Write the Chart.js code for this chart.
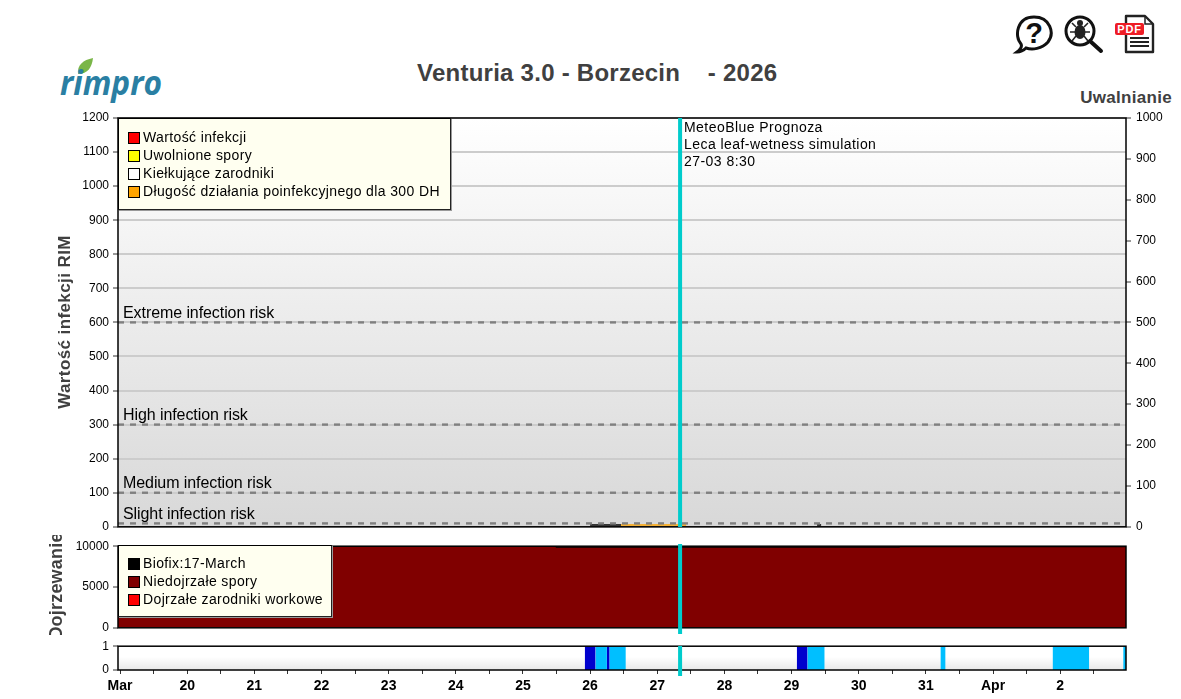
<!DOCTYPE html>
<html lang="pl"><head><meta charset="utf-8"><title>Venturia 3.0</title>
<script src="https://cdn.jsdelivr.net/npm/chart.js@4"></script>
<style>
html,body{margin:0;padding:0;background:#fff;overflow:hidden}
#page{position:relative;width:1181px;height:699px;font-family:"Liberation Sans",Arial,sans-serif;overflow:hidden}
canvas{position:absolute;left:0}
.head{position:absolute;white-space:pre;font-weight:bold;color:#404040}
.legend{position:absolute;left:118px;background:#fffff0;border-right:1px solid #222;border-bottom:1px solid #222;box-sizing:border-box;box-shadow:1px 1px 0 #999;font-size:14px;letter-spacing:.37px;color:#000}
.row{position:absolute;left:24px;white-space:pre;line-height:18px;height:18px}
.sw{position:absolute;left:9px;width:10px;height:10px;border:1px solid #000}
svg{position:absolute}
</style></head><body><div id="page">
<div class="head" style="left:417px;top:58px;font-size:24px;line-height:30px;letter-spacing:.25px">Venturia 3.0 - Borzecin    - 2026</div>
<div class="head" style="right:9px;top:88px;font-size:17px;line-height:20px;letter-spacing:.3px">Uwalnianie</div>
<svg style="left:55px;top:54px" width="115" height="52" viewBox="0 0 115 52">
<path d="M23 20 C22 11 28 6 38 4 C37 13 33 20 23 20Z" fill="#7ab648"/>
<text x="5" y="41" font-family="Open Sans" font-weight="bold" font-style="italic" font-size="34" fill="#2a7fa3" textLength="102" lengthAdjust="spacingAndGlyphs">rimpro</text>
</svg>
<svg style="left:1012px;top:10px" width="150" height="48" viewBox="0 0 150 48">
<path d="M5 42 C9 39 10 36 9 34 C2 26 5 7 22 7 C38 7 43 23 36 32 C30 39 20 40 14 38 C11 41 8 42 5 42Z" fill="#fff" stroke="#111" stroke-width="3"/>
<text x="22" y="33" text-anchor="middle" font-family="Liberation Sans" font-weight="bold" font-size="29" fill="#111">?</text>
<circle cx="68" cy="21" r="14" fill="#fff" stroke="#111" stroke-width="3"/>
<line x1="78" y1="31" x2="89" y2="41" stroke="#111" stroke-width="4" stroke-linecap="round"/>
<ellipse cx="68" cy="22" rx="5.5" ry="7" fill="#222"/><circle cx="68" cy="13" r="3" fill="#222"/>
<path d="M60 13 L64 17 M76 13 L72 17 M58 22 H78 M60 31 L64 26 M76 31 L72 26" stroke="#222" stroke-width="1.6"/>
<path d="M114 6 H133 L141 14 V42 H114Z" fill="#fff" stroke="#222" stroke-width="2.4" stroke-linejoin="round"/>
<path d="M133 6 V14 H141" fill="none" stroke="#222" stroke-width="1.5"/>
<path d="M118 28 H137 M118 32 H137 M118 36 H137" stroke="#222" stroke-width="2"/>
<rect x="103" y="13" width="29" height="12" rx="2" fill="#ee1c25"/>
<text x="117.5" y="23" text-anchor="middle" font-family="Liberation Sans" font-weight="bold" font-size="11" letter-spacing="0.8" fill="#fff">PDF</text>
</svg>
<canvas id="c1" width="1181" height="539" style="top:0"></canvas>
<canvas id="c2" width="1181" height="104" style="top:535px;clip-path:inset(0 0 4px 0)"></canvas>
<canvas id="c3" width="1181" height="64" style="top:635px"></canvas>
<div class="legend" style="top:118px;width:333px;height:92px;border-top:1px solid #000;border-left:1px solid #000">
<i class="sw" style="top:13px;background:#f00"></i><span class="row" style="top:9px">Wartość infekcji</span>
<i class="sw" style="top:31px;background:#ff0"></i><span class="row" style="top:27px">Uwolnione spory</span>
<i class="sw" style="top:49px;background:#fff"></i><span class="row" style="top:45px">Kiełkujące zarodniki</span>
<i class="sw" style="top:67px;background:#ffa500"></i><span class="row" style="top:63px">Długość działania poinfekcyjnego dla 300 DH</span>
</div>
<div class="legend" style="top:545px;width:214px;height:72px;border-top:1px solid #000;border-left:1px solid #000">
<i class="sw" style="top:12px;background:#000"></i><span class="row" style="top:8px">Biofix:17-March</span>
<i class="sw" style="top:30px;background:#800000"></i><span class="row" style="top:26px">Niedojrzałe spory</span>
<i class="sw" style="top:48px;background:#f00"></i><span class="row" style="top:44px">Dojrzałe zarodniki workowe</span>
</div>
</div>
<script>
// x values are days counted from 19 March
const xMin = -0.03, xMax = 14.98;
const nowX = 8.34;
const dayLabels = ["Mar","20","21","22","23","24","25","26","27","28","29","30","31","Apr","2"];
const thresholdValues = [600, 300, 100, 10];
const thresholdLabels = ["Extreme infection risk","High infection risk","Medium infection risk","Slight infection risk"];
const forecastLines = ["MeteoBlue Prognoza","Leca leaf-wetness simulation","27-03 8:30"];
const infectionX = [7.0, 7.46], infectionY = [5, 5];
const durationX = [7.46, 8.43], durationY = [5, 5];
const blipX = [10.38, 10.44], blipY = [5, 5];
const ripeX = [-0.03, 6.5, 6.5, 11.6, 11.6, 14.98];
const immatureY = [10000, 10000, 9900, 9900, 9950, 9950];
const darkWet = [[6.92,7.08],[7.25,7.29],[10.08,10.24]];
const lightWet = [[7.08,7.25],[7.29,7.53],[10.24,10.49],[12.22,12.29],[13.89,14.43],[14.94,14.98]];

const FONT = '"Liberation Sans", Arial, sans-serif';
Chart.defaults.font.family = FONT;
Chart.defaults.animation = false;
const pts = (xs, ys) => xs.map((x, i) => ({x, y: ys[i]}));
const band = r => r.flatMap(([a, b]) => [{x:a,y:0},{x:a,y:1},{x:b,y:1},{x:b,y:0}]);

function surface(stops){ return { id:'surface', beforeDraw(c){
  const a=c.chartArea, g=c.ctx.createLinearGradient(0,a.top,0,a.bottom);
  stops.forEach(s=>g.addColorStop(s[0],s[1]));
  c.ctx.fillStyle=g; c.ctx.fillRect(a.left,a.top,a.right-a.left,a.bottom-a.top);
}};}
function overlay(yTop, yBottom, extra){ return { id:'overlay', afterDraw(c){
  const a=c.chartArea, ctx=c.ctx; ctx.save();
  ctx.strokeStyle='#000'; ctx.lineWidth=1.5;
  ctx.strokeRect(a.left,a.top,a.right-a.left,a.bottom-a.top);
  const x=c.scales.x.getPixelForValue(nowX);
  ctx.fillStyle='#00cccc'; ctx.fillRect(x-2,yTop,4,yBottom-yTop);
  if(extra) extra(c,ctx);
  ctx.restore();
}};}
function yAxis(min,max,step,pos,width,grid){ return {
  type:'linear',position:pos,min,max,
  afterFit(s){s.width=width;},
  ticks:{stepSize:step,color:'#000',font:{size:12},padding:pos==='left'?4:5,autoSkip:false,maxRotation:0,includeBounds:false,callback:v=>String(v)},
  border:{display:false},
  grid:{drawOnChartArea:!!grid,color:'#cccccc',lineWidth:2,tickColor:'#333',tickWidth:1,tickLength:5}
};}
const hiddenX = {type:'linear',min:xMin,max:xMax,display:false};
function rotated(ctx,text,x,y,size,sp){
  ctx.save();ctx.translate(x,y);ctx.rotate(-Math.PI/2);
  ctx.font='bold '+size+'px '+FONT;ctx.letterSpacing=sp+'px';ctx.fillStyle='#404040';ctx.textAlign='center';ctx.textBaseline='middle';
  ctx.fillText(text,0,0);ctx.restore();
}
const base = {responsive:false,animation:false,maintainAspectRatio:false,
  plugins:{legend:{display:false},tooltip:{enabled:false},title:{display:false}},
  elements:{point:{radius:0},line:{tension:0}}};

new Chart(document.getElementById('c1'),{type:'line',data:{datasets:[
  ...thresholdValues.map((v,i)=>({label:thresholdLabels[i],data:[{x:xMin,y:v},{x:xMax,y:v}],borderColor:'#808080',borderWidth:2.4,borderDash:[6,6],xAxisID:'x',yAxisID:'y'})),
  {label:'Wartość infekcji',data:pts(infectionX,infectionY),borderColor:'#000',borderWidth:1.5,xAxisID:'x',yAxisID:'y'},
  {label:'Długość działania',data:pts(durationX,durationY),borderColor:'#ffa500',borderWidth:1.5,xAxisID:'x',yAxisID:'y'},
  {label:'Kiełkujące zarodniki',data:pts(blipX,blipY),borderColor:'#000',borderWidth:1.5,xAxisID:'x',yAxisID:'y'}
]},options:{...base,layout:{autoPadding:false,padding:{top:118,bottom:5}},
  scales:{x:hiddenX,y:yAxis(0,1200,100,'left',118,true),yRight:yAxis(0,1000,100,'right',55,false)}},
  plugins:[surface([[0,'#ffffff'],[1,'#d8d8d8']]),overlay(118,527,(c,ctx)=>{
    ctx.fillStyle='#000';ctx.font='16px '+FONT;ctx.letterSpacing='-0.08px';ctx.textAlign='left';ctx.textBaseline='alphabetic';
    thresholdLabels.forEach((t,i)=>ctx.fillText(t,123,c.scales.y.getPixelForValue(thresholdValues[i])-4.5));
    ctx.font='14px '+FONT;ctx.letterSpacing='0.45px';
    forecastLines.forEach((t,i)=>ctx.fillText(t,684,132+i*17));
    rotated(ctx,'Wartość infekcji RIM',65.5,322,17,0.4);
  })]});

new Chart(document.getElementById('c2'),{type:'line',data:{datasets:[
  {label:'Niedojrzałe spory',data:pts(ripeX,immatureY),borderColor:'#000',borderWidth:1.5,backgroundColor:'#800000',fill:'origin',xAxisID:'x',yAxisID:'y'}
]},options:{...base,layout:{autoPadding:false,padding:{top:10,bottom:3,right:55}},
  scales:{x:hiddenX,y:yAxis(0,10000,5000,'left',118,false)}},
  plugins:[overlay(9,99,(c,ctx)=>rotated(ctx,'Dojrzewanie',57,51,18,0.2))]});

new Chart(document.getElementById('c3'),{type:'line',data:{datasets:[
  {label:'Zwilżenie prognoza',data:band(lightWet),borderWidth:0,backgroundColor:'#00bfff',fill:'origin',xAxisID:'x',yAxisID:'y'},
  {label:'Zwilżenie',data:band(darkWet),borderWidth:0,backgroundColor:'#0000cd',fill:'origin',xAxisID:'x',yAxisID:'y'}
]},options:{...base,layout:{autoPadding:false,padding:{top:11,right:55}},
  scales:{
   x:{type:'linear',min:xMin,max:xMax,afterFit(s){s.height=29;},border:{display:false},
      grid:{drawOnChartArea:false,tickColor:'#333',tickWidth:1,tickLength:4},
      ticks:{stepSize:0.5,includeBounds:false,autoSkip:false,maxRotation:0,minRotation:0,padding:4,color:'#000',font:{size:14,weight:'bold'},
        callback:v=>Number.isInteger(v)?(dayLabels[v]??''):''}},
   y:yAxis(0,1,1,'left',118,false)}},
  plugins:[surface([[0,'#ffffff'],[0.45,'#ffffff'],[1,'#e8e8e8']]),overlay(11,41)]});
</script></body></html>
